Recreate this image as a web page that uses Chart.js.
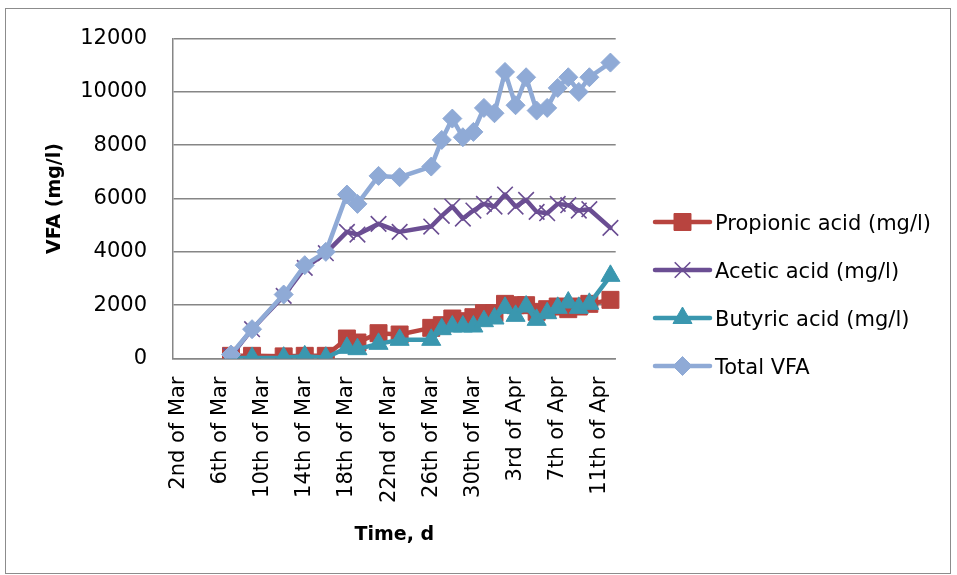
<!DOCTYPE html>
<html>
<head>
<meta charset="utf-8">
<script src="https://cdn.jsdelivr.net/npm/chart.js@4/dist/chart.umd.min.js"></script>
<style>
html,body{margin:0;padding:0;background:#fff;}
#wrap{position:relative;width:957px;height:575px;}
</style>
</head>
<body>
<div id="wrap"><canvas id="c" width="957" height="575"></canvas></div>
<script>
// ---- Data ----
const dayLabels = [
  '2nd of Mar','3rd of Mar','4th of Mar','5th of Mar','6th of Mar','7th of Mar','8th of Mar','9th of Mar',
  '10th of Mar','11th of Mar','12th of Mar','13th of Mar','14th of Mar','15th of Mar','16th of Mar','17th of Mar',
  '18th of Mar','19th of Mar','20th of Mar','21st of Mar','22nd of Mar','23rd of Mar','24th of Mar','25th of Mar',
  '26th of Mar','27th of Mar','28th of Mar','29th of Mar','30th of Mar','31st of Mar',
  '1st of Apr','2nd of Apr','3rd of Apr','4th of Apr','5th of Apr','6th of Apr','7th of Apr','8th of Apr',
  '9th of Apr','10th of Apr','11th of Apr','12th of Apr'
];
const tickEvery = 4;
const sampleDates = [
  '7th of Mar','9th of Mar','12th of Mar','14th of Mar','16th of Mar','18th of Mar','19th of Mar','21st of Mar',
  '23rd of Mar','26th of Mar','27th of Mar','28th of Mar','29th of Mar','30th of Mar','31st of Mar',
  '1st of Apr','2nd of Apr','3rd of Apr','4th of Apr','5th of Apr','6th of Apr','7th of Apr','8th of Apr',
  '9th of Apr','10th of Apr','12th of Apr'
];
const propionic = [100, 100, 80, 100, 100, 750, 600, 950, 900, 1150, 1250, 1500, 1400, 1550, 1700, 1700, 2050, 2000, 2000, 1750, 1850, 1950, 1850, 1950, 2050, 2200];
const acetic    = [100, 1100, 2350, 3400, 3950, 4750, 4650, 5050, 4750, 4950, 5350, 5700, 5250, 5550, 5800, 5700, 6150, 5700, 5950, 5500, 5450, 5800, 5750, 5550, 5600, 4900];
const butyric   = [20, 20, 30, 80, 30, 400, 350, 550, 700, 700, 1100, 1200, 1200, 1200, 1400, 1500, 1900, 1600, 1950, 1450, 1700, 1900, 2100, 1900, 2050, 3100];
const totalVFA  = [150, 1100, 2400, 3500, 4000, 6150, 5800, 6850, 6800, 7200, 8200, 9000, 8300, 8500, 9400, 9200, 10750, 9500, 10550, 9300, 9400, 10150, 10550, 10000, 10550, 11100];
const seriesNames = ['Propionic acid (mg/l)', 'Acetic acid (mg/l)', 'Butyric acid (mg/l)', 'Total VFA'];
const yTitle = 'VFA (mg/l)';
const xTitle = 'Time, d';

// ---- Styling ----
const FONT = '"DejaVu Sans", "Liberation Sans", sans-serif';
const colors = ['#B8443F', '#6B4E93', '#3A97AF', '#8FAAD6'];
const styles = ['rect', 'crossRot', 'triangle', 'rectRot'];
const radii = [12, 11, 11, 9.5];
const pointBorder = [1, 1.6, 1, 1];
const drawOrder = [3, 2, 1, 0];

function pts(arr) { return sampleDates.map((d, i) => ({ x: d, y: arr[i] })); }
const seriesValues = [propionic, acetic, butyric, totalVFA];

const datasets = seriesValues.map((arr, i) => ({
  label: seriesNames[i],
  data: pts(arr),
  borderColor: colors[i],
  backgroundColor: colors[i],
  borderWidth: 4.5,
  pointStyle: styles[i],
  pointRadius: radii[i],
  pointHoverRadius: radii[i],
  pointBorderWidth: pointBorder[i],
  pointBorderColor: colors[i],
  pointBackgroundColor: colors[i],
  tension: 0,
  spanGaps: true,
  order: drawOrder[i],
  borderJoinStyle: 'round',
  borderCapStyle: 'round'
}));

const framePlugin = {
  id: 'frame',
  beforeDraw(chart) {
    const ctx = chart.ctx;
    ctx.save();
    ctx.fillStyle = '#ffffff';
    ctx.fillRect(0, 0, chart.width, chart.height);
    ctx.strokeStyle = '#8c8c8c';
    ctx.lineWidth = 1;
    ctx.strokeRect(5.5, 8.5, 945, 565);
    ctx.restore();
  },
  afterDraw(chart) {
    const ctx = chart.ctx;
    const x0 = 655, x1 = 710, tx = 715, y0 = 222, dy = 48;
    chart.data.datasets.forEach((ds, i) => {
      const y = y0 + i * dy;
      ctx.save();
      ctx.strokeStyle = ds.borderColor;
      ctx.lineWidth = 4.5;
      ctx.lineCap = 'round';
      ctx.beginPath();
      ctx.moveTo(x0, y);
      ctx.lineTo(x1, y);
      ctx.stroke();
      ctx.fillStyle = ds.pointBackgroundColor;
      ctx.strokeStyle = ds.pointBorderColor;
      ctx.lineWidth = ds.pointBorderWidth;
      ctx.lineCap = 'butt';
      Chart.helpers.drawPoint(ctx, { pointStyle: ds.pointStyle, radius: ds.pointRadius, rotation: 0, borderWidth: ds.pointBorderWidth }, (x0 + x1) / 2, y);
      ctx.fillStyle = '#000000';
      ctx.font = '21px ' + FONT;
      ctx.textAlign = 'left';
      ctx.textBaseline = 'alphabetic';
      ctx.fillText(ds.label, tx, y + 7.5);
      ctx.restore();
    });
  }
};

new Chart(document.getElementById('c'), {
  type: 'line',
  data: { labels: dayLabels, datasets },
  plugins: [framePlugin],
  options: {
    responsive: false,
    animation: false,
    devicePixelRatio: 1,
    events: [],
    layout: { padding: { left: 0, right: 341.3, top: 36.7, bottom: 0 } },
    plugins: { legend: { display: false }, tooltip: { enabled: false } },
    scales: {
      x: {
        type: 'category',
        offset: true,
        grid: { display: false, offset: true, drawTicks: false },
        border: { display: true, color: '#868686', width: 1.5 },
        ticks: {
          autoSkip: false,
          minRotation: 90,
          maxRotation: 90,
          padding: 18,
          color: '#000000',
          font: { family: FONT, size: 21 },
          callback: function (value, index) {
            return index % tickEvery === 0 ? this.getLabelForValue(value) : '';
          }
        },
        title: {
          display: true,
          text: xTitle,
          color: '#000000',
          font: { family: FONT, size: 19, weight: 'bold' },
          padding: { top: 0, bottom: 28.6 }
        },
        afterFit(scale) { scale.height = 575 - 358.5; }
      },
      y: {
        min: 0,
        max: 12000,
        grid: { color: '#868686', lineWidth: 1.5, drawTicks: false },
        border: { display: true, color: '#868686', width: 1.5 },
        ticks: {
          stepSize: 2000,
          padding: 26,
          color: '#000000',
          font: { family: FONT, size: 21 },
          callback: function (value) { return String(value); }
        },
        title: {
          display: true,
          text: yTitle,
          color: '#000000',
          font: { family: FONT, size: 19, weight: 'bold' },
          padding: { top: 43.6, bottom: 0 }
        },
        afterFit(scale) { scale.width = 173; }
      }
    }
  }
});
</script>
</body>
</html>
